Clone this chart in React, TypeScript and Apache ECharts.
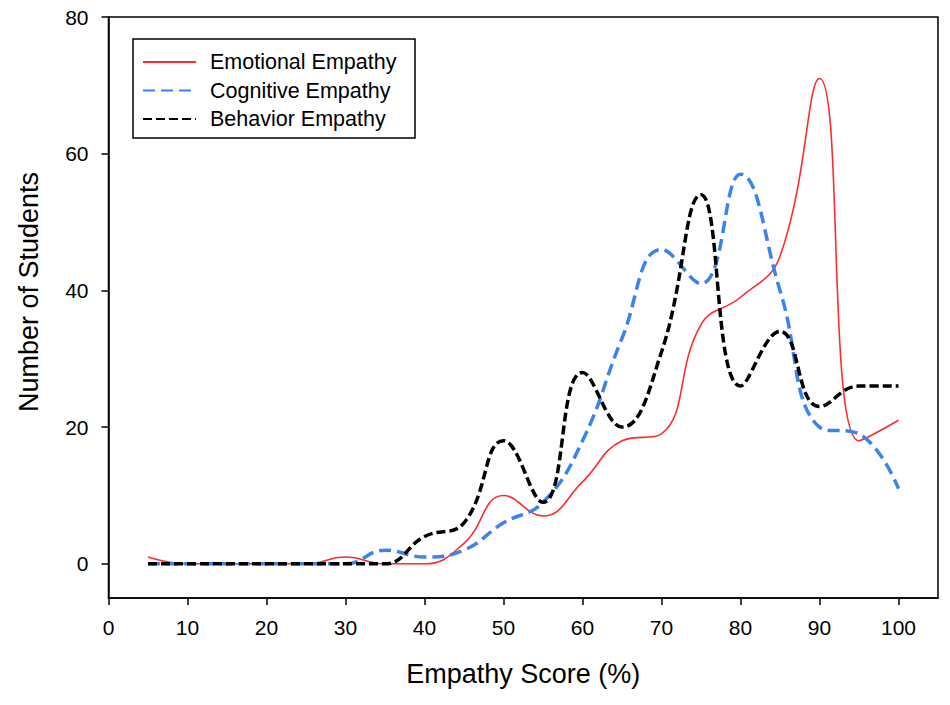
import React, { useEffect, useRef } from "react";
import * as echarts from "echarts";

const scores = [5, 10, 15, 20, 25, 30, 35, 40, 45, 50, 55, 60, 65, 70, 75, 80, 85, 90, 95, 100];
const emotional = [1, 0, 0, 0, 0, 1, 0, 0, 3, 10, 7, 12, 18, 19, 35, 39, 45, 71, 18, 21];
const cognitive = [0, 0, 0, 0, 0, 0, 2, 1, 2, 6, 9, 18, 33, 46, 41, 57, 40, 20, 19, 11];
const behavior = [0, 0, 0, 0, 0, 0, 0, 4, 6, 18, 9, 28, 20, 31, 54, 26, 34, 23, 26, 26];
const xTicks = [0, 10, 20, 30, 40, 50, 60, 70, 80, 90, 100];
const yTicks = [0, 20, 40, 60, 80];
const seriesNames = ["Emotional Empathy", "Cognitive Empathy", "Behavior Empathy"];

export default function App() {
  const ref = useRef<HTMLDivElement>(null);
  useEffect(() => {
    if (!ref.current) return;
    const chart = echarts.init(ref.current, null, { renderer: "svg" });
    const font = "'Liberation Sans', Arial, sans-serif";
    const toPairs = (ys: number[]) => scores.map((x, i) => [x, ys[i]]);
    chart.setOption({
      animation: false,
      backgroundColor: "#ffffff",
      textStyle: { fontFamily: font },
      grid: {
        left: 108.5,
        right: 12,
        top: 17,
        bottom: 107,
        show: true,
        borderColor: "#000",
        borderWidth: 1.5,
        backgroundColor: "transparent",
      },
      xAxis: {
        type: "value",
        min: 0,
        max: 105,
        axisLine: { show: true, onZero: false, lineStyle: { color: "#000", width: 1.5 } },
        axisTick: { show: true, customValues: xTicks, length: 7, lineStyle: { color: "#000", width: 1.5 } },
        axisLabel: { customValues: xTicks, fontSize: 21, color: "#000", margin: 19, fontFamily: font },
        splitLine: { show: false },
        name: "Empathy Score (%)",
        nameLocation: "middle",
        nameGap: 62,
        nameTextStyle: { fontSize: 27, color: "#000", fontFamily: font },
      },
      yAxis: {
        type: "value",
        min: -5,
        max: 80,
        axisLine: { show: true, onZero: false, lineStyle: { color: "#000", width: 1.5 } },
        axisTick: { show: true, customValues: yTicks, length: 7, lineStyle: { color: "#000", width: 1.5 } },
        axisLabel: { customValues: yTicks, fontSize: 21, color: "#000", margin: 20, fontFamily: font },
        splitLine: { show: false },
      },
      legend: {
        orient: "vertical",
        left: 142,
        top: 51,
        padding: 0,
        itemWidth: 53,
        itemHeight: 14,
        itemGap: 6.5,
        itemStyle: { opacity: 0, borderWidth: 0 },
        textStyle: { fontSize: 21.5, color: "#000", padding: [0, 0, 0, 9], lineHeight: 21, fontFamily: font },
        data: seriesNames,
      },
      graphic: [
        {
          type: "rect",
          shape: { x: 133, y: 39, width: 282, height: 99 },
          style: { fill: "rgba(0,0,0,0)", stroke: "#000", lineWidth: 1.5 },
        },
        {
          type: "text",
          x: 29,
          y: 292,
          rotation: Math.PI / 2,
          style: {
            text: "Number of Students",
            fontSize: 27,
            fontFamily: font,
            fill: "#000",
            align: "center",
            verticalAlign: "middle",
            textAlign: "center",
            textVerticalAlign: "middle",
          },
        },
      ],
      series: [
        {
          name: seriesNames[0],
          type: "line",
          data: toPairs(emotional),
          smooth: 0.45,
          symbol: "none",
          lineStyle: { color: "#ff2b2b", width: 1.6 },
          itemStyle: { color: "#ff2b2b" },
        },
        {
          name: seriesNames[1],
          type: "line",
          data: toPairs(cognitive),
          smooth: 0.45,
          symbol: "none",
          lineStyle: { color: "#3c83ee", width: 3.5, type: [12, 6] },
          itemStyle: { color: "#3c83ee" },
        },
        {
          name: seriesNames[2],
          type: "line",
          data: toPairs(behavior),
          smooth: 0.45,
          symbol: "none",
          lineStyle: { color: "#000000", width: 3.5, type: [9, 4] },
          itemStyle: { color: "#000000" },
        },
      ],
    });
    return () => chart.dispose();
  }, []);
  return <div ref={ref} style={{ position: "absolute", left: 0, top: 0, width: 950, height: 705 }} />;
}
